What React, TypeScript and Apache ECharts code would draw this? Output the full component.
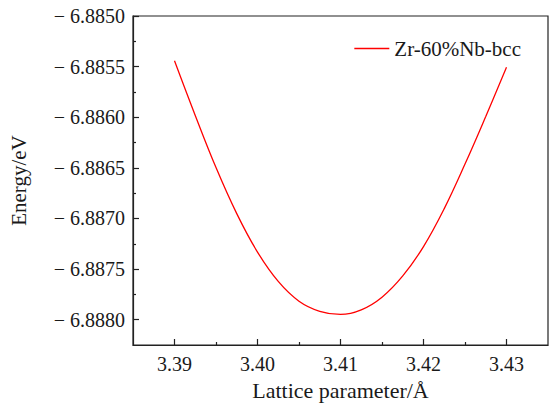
import React, { useEffect, useRef } from "react";
import * as echarts from "echarts";

const latticeParams = [3.39, 3.3925, 3.395, 3.3975, 3.40, 3.4025, 3.405, 3.4075, 3.41, 3.4125, 3.415, 3.4175, 3.42, 3.4225, 3.425, 3.4275, 3.43];
const energies = [-6.885442, -6.885982, -6.886497, -6.886952, -6.887332, -6.887622, -6.887817, -6.887917, -6.887948, -6.887903, -6.887778, -6.887568, -6.887278, -6.886903, -6.886463, -6.885993, -6.885507];
const xMajorTicks = [3.39, 3.40, 3.41, 3.42, 3.43];
const xMinorTicks = [3.395, 3.405, 3.415, 3.425];
const yMajorTicks = [-6.888, -6.8875, -6.887, -6.8865, -6.886, -6.8855, -6.885];
const yMinorTicks = [-6.88775, -6.88725, -6.88675, -6.88625, -6.88575, -6.88525];
const seriesName = "Zr-60%Nb-bcc";

const FONT = "Liberation Serif";
const AXIS_COLOR = "#222";
const TEXT_COLOR = "#1a1a1a";

export default function App() {
  const ref = useRef<HTMLDivElement>(null);
  useEffect(() => {
    if (!ref.current) return;
    const chart = echarts.init(ref.current, undefined, { renderer: "svg" });
    const xMin = 3.385, xMax = 3.435, yMin = -6.88825, yMax = -6.885;
    chart.setOption({
      animation: false,
      backgroundColor: "#fff",
      textStyle: { fontFamily: FONT },
      grid: {
        left: 132, right: 1, top: 16, bottom: 58,
        show: true, borderColor: AXIS_COLOR, borderWidth: 1.2,
      },
      legend: {
        right: 28, top: 38, padding: 0,
        icon: "rect",
        itemWidth: 35, itemHeight: 1.4, itemGap: 8, itemStyle: { color: "#ff0000" },
        textStyle: { fontFamily: FONT, fontSize: 21, color: TEXT_COLOR },
        data: [seriesName],
      },
      xAxis: [
        {
          type: "value", min: xMin, max: xMax,
          name: "Lattice parameter/Å", nameLocation: "middle", nameGap: 34,
          nameTextStyle: { fontFamily: FONT, fontSize: 22, color: TEXT_COLOR },
          splitLine: { show: false },
          axisLine: { show: true, onZero: false, lineStyle: { color: AXIS_COLOR, width: 1.2 } },
          axisTick: { show: true, inside: true, length: 6, customValues: xMajorTicks, lineStyle: { color: AXIS_COLOR, width: 1.2 } },
          axisLabel: {
            customValues: xMajorTicks, margin: 9,
            fontFamily: FONT, fontSize: 20, color: TEXT_COLOR,
            formatter: (v: number) => v.toFixed(2),
          },
        },
        {
          type: "value", min: xMin, max: xMax, position: "bottom",
          splitLine: { show: false },
          axisLine: { show: false, onZero: false },
          axisTick: { show: true, inside: true, length: 3, customValues: xMinorTicks, lineStyle: { color: AXIS_COLOR, width: 1.2 } },
          axisLabel: { show: false },
        },
      ],
      yAxis: [
        {
          type: "value", min: yMin, max: yMax,
          name: "Energy/eV", nameLocation: "middle", nameGap: 104,
          nameTextStyle: { fontFamily: FONT, fontSize: 21, color: TEXT_COLOR },
          splitLine: { show: false },
          axisLine: { show: true, onZero: false, lineStyle: { color: AXIS_COLOR, width: 1.2 } },
          axisTick: { show: true, inside: true, length: 6, customValues: yMajorTicks, lineStyle: { color: AXIS_COLOR, width: 1.2 } },
          axisLabel: {
            customValues: yMajorTicks, margin: 8,
            fontFamily: FONT, fontSize: 20, color: TEXT_COLOR,
            formatter: (v: number) => (v < 0 ? "\u2212 " : "") + Math.abs(v).toFixed(4),
          },
        },
        {
          type: "value", min: yMin, max: yMax, position: "left",
          splitLine: { show: false },
          axisLine: { show: false, onZero: false },
          axisTick: { show: true, inside: true, length: 3, customValues: yMinorTicks, lineStyle: { color: AXIS_COLOR, width: 1.2 } },
          axisLabel: { show: false },
        },
      ],
      series: [
        {
          name: seriesName,
          type: "line",
          smooth: 0.4,
          symbol: "none",
          xAxisIndex: 0, yAxisIndex: 0,
          lineStyle: { color: "#ff0000", width: 1.3 },
          itemStyle: { color: "#ff0000" },
          data: latticeParams.map((x, i) => [x, energies[i]]),
        },
      ],
    });
    return () => chart.dispose();
  }, []);
  return <div ref={ref} style={{ position: "fixed", left: 0, top: 0, width: 549, height: 406 }} />;
}
